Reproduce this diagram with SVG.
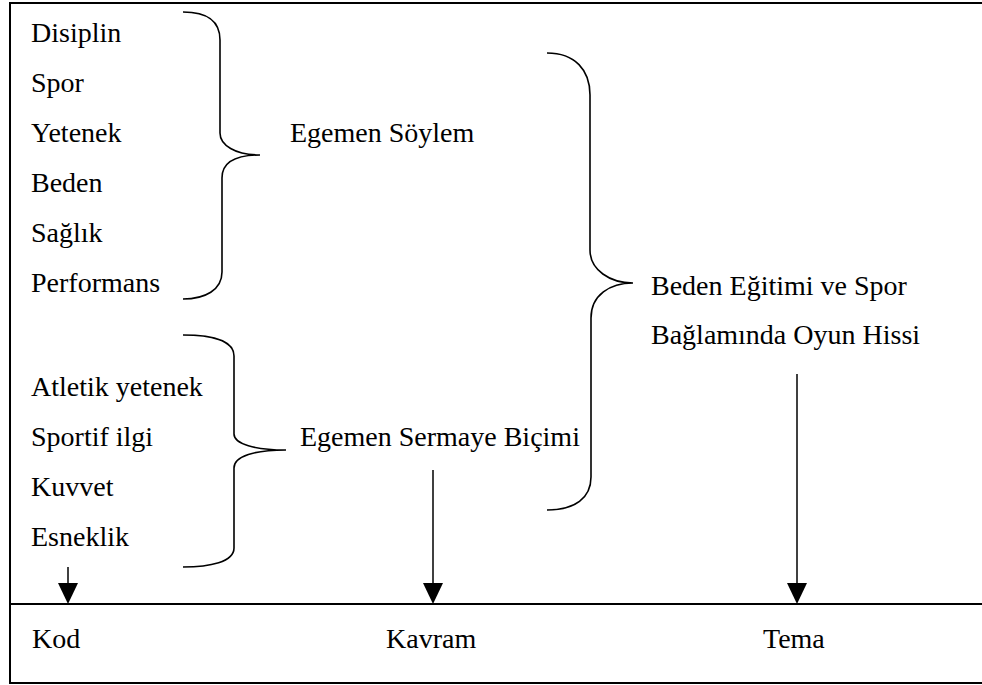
<svg xmlns="http://www.w3.org/2000/svg" width="982" height="685" viewBox="0 0 982 685">
<style>
text{font-family:"Liberation Serif","Times New Roman",serif;font-size:28px;fill:#000}
.ln{stroke:#000;stroke-width:2;fill:none}
.br{stroke:#000;stroke-width:1.6;fill:none}
.sh{stroke:#000;stroke-width:1.5;fill:none}
</style>
<rect width="982" height="685" fill="#fff"/>
<g id="frame">
<path class="ln" d="M983,3 H10 V683 H983"/>
<line class="ln" x1="10" y1="604" x2="983" y2="604"/>
</g>
<g id="codes-top">
<text x="31" y="42">Disiplin</text>
<text x="31" y="92">Spor</text>
<text x="31" y="142">Yetenek</text>
<text x="31" y="192">Beden</text>
<text x="31" y="242">Sağlık</text>
<text x="31" y="292">Performans</text>
</g>
<g id="codes-bottom">
<text x="31" y="396">Atletik yetenek</text>
<text x="31" y="446">Sportif ilgi</text>
<text x="31" y="496">Kuvvet</text>
<text x="31" y="546">Esneklik</text>
</g>
<g id="concept-soylem"><text x="290" y="142">Egemen Söylem</text></g>
<g id="concept-sermaye"><text x="300" y="446">Egemen Sermaye Biçimi</text></g>
<g id="theme">
<text x="651" y="295">Beden Eğitimi ve Spor</text>
<text x="651" y="344">Bağlamında Oyun Hissi</text>
</g>
<g id="labels">
<text x="32" y="648">Kod</text>
<text x="386" y="648">Kavram</text>
<text x="763" y="648">Tema</text>
</g>
<g id="connectors">
<path class="br" d="M183,12 C205,12 220,20 220,40 V133 C220,145 235,155 260,155 C235,155 222,163 222,178 V272 C222,290 205,299 183,299"/>
<path class="br" d="M183,335 C210,335 234,340 234,356 V434 C234,444 255,450 286,450 C255,450 234,456 234,468 V548 C234,562 210,567 183,567"/>
<path class="br" d="M547,53 C575,53 590,70 590,95 V250 C590,270 610,283 633,283 C610,283 591,295 591,318 V477 C591,498 575,510 547,510"/>
<path class="sh" d="M68,567 V584"/>
<path d="M58,583 L78,583 L68,604 Z"/>
<path class="sh" d="M433,470 V584"/>
<path d="M423,583 L443,583 L433,604 Z"/>
<path class="sh" d="M797,374 V584"/>
<path d="M787,583 L807,583 L797,604 Z"/>
</g>
</svg>
